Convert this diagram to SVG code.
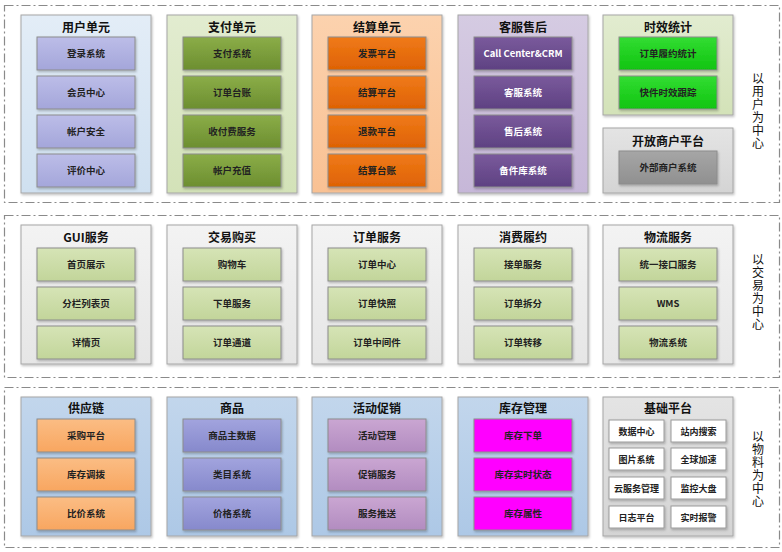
<svg xmlns="http://www.w3.org/2000/svg" width="782" height="552" viewBox="0 0 782 552">
<defs>
<style>
.frame{fill:none;stroke:#8a8a8a;stroke-width:1.2;stroke-dasharray:9 3 2 3}
.panel{stroke:#a6a6a6;stroke-width:1}
.box{stroke:#8c8c8c;stroke-width:1}
.sbox{fill:#ffffff;stroke:#9a9a9a;stroke-width:1}
.title{font-family:"Noto Sans CJK SC","Noto Sans",sans-serif;font-size:12px;font-weight:bold;fill:#111;text-anchor:middle}
.t{font-family:"Noto Sans CJK SC","Noto Sans",sans-serif;font-size:9.5px;font-weight:bold;fill:#222;text-anchor:middle}
.tw{font-family:"Noto Sans CJK SC","Noto Sans",sans-serif;font-size:9.5px;font-weight:bold;fill:#ffffff;text-anchor:middle}
.ts{font-family:"Noto Sans CJK SC","Noto Sans",sans-serif;font-size:9px;font-weight:bold;fill:#222;text-anchor:middle}
.side{font-family:"Noto Sans CJK SC","Noto Sans",sans-serif;font-size:12px;fill:#111;writing-mode:vertical-rl;letter-spacing:1px}
</style>
<linearGradient id="pBlue1" x1="0" y1="0" x2="0" y2="1"><stop offset="0" stop-color="#e3edf7"/><stop offset="1" stop-color="#cfe0f0"/></linearGradient>
<linearGradient id="pGreen" x1="0" y1="0" x2="0" y2="1"><stop offset="0" stop-color="#e2ecd0"/><stop offset="1" stop-color="#d3e2b8"/></linearGradient>
<linearGradient id="pOrange" x1="0" y1="0" x2="0" y2="1"><stop offset="0" stop-color="#fcd2ae"/><stop offset="1" stop-color="#f9c193"/></linearGradient>
<linearGradient id="pPurple" x1="0" y1="0" x2="0" y2="1"><stop offset="0" stop-color="#d5cbe2"/><stop offset="1" stop-color="#c6b7d8"/></linearGradient>
<linearGradient id="pGray" x1="0" y1="0" x2="0" y2="1"><stop offset="0" stop-color="#e4e4e4"/><stop offset="1" stop-color="#d4d4d4"/></linearGradient>
<linearGradient id="pLight" x1="0" y1="0" x2="0" y2="1"><stop offset="0" stop-color="#f3f3f3"/><stop offset="1" stop-color="#e6e6e6"/></linearGradient>
<linearGradient id="pBlue3" x1="0" y1="0" x2="0" y2="1"><stop offset="0" stop-color="#c2d6ec"/><stop offset="1" stop-color="#adc8e6"/></linearGradient>
<linearGradient id="bUser" x1="0" y1="0" x2="0" y2="1"><stop offset="0" stop-color="#bcbde8"/><stop offset="1" stop-color="#a4a6da"/></linearGradient>
<linearGradient id="bPay" x1="0" y1="0" x2="0" y2="1"><stop offset="0" stop-color="#8bad48"/><stop offset="1" stop-color="#6c8e30"/></linearGradient>
<linearGradient id="bSettle" x1="0" y1="0" x2="0" y2="1"><stop offset="0" stop-color="#f07a18"/><stop offset="1" stop-color="#de6204"/></linearGradient>
<linearGradient id="bSvc" x1="0" y1="0" x2="0" y2="1"><stop offset="0" stop-color="#7a5a9c"/><stop offset="1" stop-color="#5e4182"/></linearGradient>
<linearGradient id="bTime" x1="0" y1="0" x2="0" y2="1"><stop offset="0" stop-color="#33dd33"/><stop offset="1" stop-color="#10c410"/></linearGradient>
<linearGradient id="bExt" x1="0" y1="0" x2="0" y2="1"><stop offset="0" stop-color="#a6a6a6"/><stop offset="1" stop-color="#909090"/></linearGradient>
<linearGradient id="bTrade" x1="0" y1="0" x2="0" y2="1"><stop offset="0" stop-color="#d6e4b6"/><stop offset="1" stop-color="#c2d59a"/></linearGradient>
<linearGradient id="bSupply" x1="0" y1="0" x2="0" y2="1"><stop offset="0" stop-color="#fbbd84"/><stop offset="1" stop-color="#f8a660"/></linearGradient>
<linearGradient id="bGoods" x1="0" y1="0" x2="0" y2="1"><stop offset="0" stop-color="#a2a4de"/><stop offset="1" stop-color="#8689cc"/></linearGradient>
<linearGradient id="bPromo" x1="0" y1="0" x2="0" y2="1"><stop offset="0" stop-color="#caa6d2"/><stop offset="1" stop-color="#b28cc0"/></linearGradient>
<filter id="sh" x="-10%" y="-10%" width="125%" height="130%"><feDropShadow dx="1" dy="1.5" stdDeviation="0.8" flood-color="#000" flood-opacity="0.25"/></filter>
</defs>
<rect width="782" height="552" fill="#ffffff"/>

<g id="frames">
<rect class="frame" x="4.5" y="5.5" width="775" height="197"/>
<rect class="frame" x="4.5" y="215.5" width="775" height="162"/>
<rect class="frame" x="4.5" y="387.5" width="775" height="160"/>
</g>

<!-- Row 1 -->
<g id="user-unit">
<rect class="panel" x="21" y="15" width="130" height="178" fill="url(#pBlue1)" filter="url(#sh)"/>
<text class="title" x="86" y="32">用户单元</text>
<rect class="box" x="37" y="37" width="98" height="33" fill="url(#bUser)" filter="url(#sh)"/><text class="t" x="86" y="57">登录系统</text>
<rect class="box" x="37" y="76" width="98" height="33" fill="url(#bUser)" filter="url(#sh)"/><text class="t" x="86" y="96">会员中心</text>
<rect class="box" x="37" y="115" width="98" height="33" fill="url(#bUser)" filter="url(#sh)"/><text class="t" x="86" y="135">帐户安全</text>
<rect class="box" x="37" y="154" width="98" height="33" fill="url(#bUser)" filter="url(#sh)"/><text class="t" x="86" y="174">评价中心</text>
</g>
<g id="pay-unit">
<rect class="panel" x="167" y="15" width="130" height="178" fill="url(#pGreen)" filter="url(#sh)"/>
<text class="title" x="232" y="32">支付单元</text>
<rect class="box" x="183" y="37" width="98" height="33" fill="url(#bPay)" filter="url(#sh)"/><text class="t" x="232" y="57">支付系统</text>
<rect class="box" x="183" y="76" width="98" height="33" fill="url(#bPay)" filter="url(#sh)"/><text class="t" x="232" y="96">订单台账</text>
<rect class="box" x="183" y="115" width="98" height="33" fill="url(#bPay)" filter="url(#sh)"/><text class="t" x="232" y="135">收付费服务</text>
<rect class="box" x="183" y="154" width="98" height="33" fill="url(#bPay)" filter="url(#sh)"/><text class="t" x="232" y="174">帐户充值</text>
</g>
<g id="settle-unit">
<rect class="panel" x="312" y="15" width="130" height="178" fill="url(#pOrange)" filter="url(#sh)"/>
<text class="title" x="377" y="32">结算单元</text>
<rect class="box" x="328" y="37" width="98" height="33" fill="url(#bSettle)" filter="url(#sh)"/><text class="t" x="377" y="57">发票平台</text>
<rect class="box" x="328" y="76" width="98" height="33" fill="url(#bSettle)" filter="url(#sh)"/><text class="t" x="377" y="96">结算平台</text>
<rect class="box" x="328" y="115" width="98" height="33" fill="url(#bSettle)" filter="url(#sh)"/><text class="t" x="377" y="135">退款平台</text>
<rect class="box" x="328" y="154" width="98" height="33" fill="url(#bSettle)" filter="url(#sh)"/><text class="t" x="377" y="174">结算台账</text>
</g>
<g id="service-after-sale">
<rect class="panel" x="458" y="15" width="130" height="178" fill="url(#pPurple)" filter="url(#sh)"/>
<text class="title" x="523" y="32">客服售后</text>
<rect class="box" x="474" y="37" width="98" height="33" fill="url(#bSvc)" filter="url(#sh)"/><text class="tw" x="523" y="57">Call Center&amp;CRM</text>
<rect class="box" x="474" y="76" width="98" height="33" fill="url(#bSvc)" filter="url(#sh)"/><text class="tw" x="523" y="96">客服系统</text>
<rect class="box" x="474" y="115" width="98" height="33" fill="url(#bSvc)" filter="url(#sh)"/><text class="tw" x="523" y="135">售后系统</text>
<rect class="box" x="474" y="154" width="98" height="33" fill="url(#bSvc)" filter="url(#sh)"/><text class="tw" x="523" y="174">备件库系统</text>
</g>
<g id="time-stats">
<rect class="panel" x="603" y="15" width="130" height="100" fill="url(#pGreen)" filter="url(#sh)"/>
<text class="title" x="668" y="32">时效统计</text>
<rect class="box" x="619" y="37" width="98" height="33" fill="url(#bTime)" filter="url(#sh)"/><text class="t" x="668" y="57">订单履约统计</text>
<rect class="box" x="619" y="76" width="98" height="33" fill="url(#bTime)" filter="url(#sh)"/><text class="t" x="668" y="96">快件时效跟踪</text>
</g>
<g id="open-merchant">
<rect class="panel" x="603" y="128" width="130" height="65" fill="url(#pGray)" filter="url(#sh)"/>
<text class="title" x="668" y="146">开放商户平台</text>
<rect class="box" x="619" y="151" width="98" height="33" fill="url(#bExt)" filter="url(#sh)"/><text class="t" x="668" y="171">外部商户系统</text>
</g>
<g id="label-user">
<text class="side" x="758" y="72">以用户为中心</text>
</g>

<!-- Row 2 -->
<g id="gui-service">
<rect class="panel" x="21" y="225" width="130" height="139" fill="url(#pLight)" filter="url(#sh)"/>
<text class="title" x="86" y="242">GUI服务</text>
<rect class="box" x="37" y="248" width="98" height="33" fill="url(#bTrade)" filter="url(#sh)"/><text class="t" x="86" y="268">首页展示</text>
<rect class="box" x="37" y="287" width="98" height="33" fill="url(#bTrade)" filter="url(#sh)"/><text class="t" x="86" y="307">分栏列表页</text>
<rect class="box" x="37" y="326" width="98" height="33" fill="url(#bTrade)" filter="url(#sh)"/><text class="t" x="86" y="346">详情页</text>
</g>
<g id="trade-buy">
<rect class="panel" x="167" y="225" width="130" height="139" fill="url(#pLight)" filter="url(#sh)"/>
<text class="title" x="232" y="242">交易购买</text>
<rect class="box" x="183" y="248" width="98" height="33" fill="url(#bTrade)" filter="url(#sh)"/><text class="t" x="232" y="268">购物车</text>
<rect class="box" x="183" y="287" width="98" height="33" fill="url(#bTrade)" filter="url(#sh)"/><text class="t" x="232" y="307">下单服务</text>
<rect class="box" x="183" y="326" width="98" height="33" fill="url(#bTrade)" filter="url(#sh)"/><text class="t" x="232" y="346">订单通道</text>
</g>
<g id="order-service">
<rect class="panel" x="312" y="225" width="130" height="139" fill="url(#pLight)" filter="url(#sh)"/>
<text class="title" x="377" y="242">订单服务</text>
<rect class="box" x="328" y="248" width="98" height="33" fill="url(#bTrade)" filter="url(#sh)"/><text class="t" x="377" y="268">订单中心</text>
<rect class="box" x="328" y="287" width="98" height="33" fill="url(#bTrade)" filter="url(#sh)"/><text class="t" x="377" y="307">订单快照</text>
<rect class="box" x="328" y="326" width="98" height="33" fill="url(#bTrade)" filter="url(#sh)"/><text class="t" x="377" y="346">订单中间件</text>
</g>
<g id="fulfillment">
<rect class="panel" x="458" y="225" width="130" height="139" fill="url(#pLight)" filter="url(#sh)"/>
<text class="title" x="523" y="242">消费履约</text>
<rect class="box" x="474" y="248" width="98" height="33" fill="url(#bTrade)" filter="url(#sh)"/><text class="t" x="523" y="268">接单服务</text>
<rect class="box" x="474" y="287" width="98" height="33" fill="url(#bTrade)" filter="url(#sh)"/><text class="t" x="523" y="307">订单拆分</text>
<rect class="box" x="474" y="326" width="98" height="33" fill="url(#bTrade)" filter="url(#sh)"/><text class="t" x="523" y="346">订单转移</text>
</g>
<g id="logistics">
<rect class="panel" x="603" y="225" width="130" height="139" fill="url(#pLight)" filter="url(#sh)"/>
<text class="title" x="668" y="242">物流服务</text>
<rect class="box" x="619" y="248" width="98" height="33" fill="url(#bTrade)" filter="url(#sh)"/><text class="t" x="668" y="268">统一接口服务</text>
<rect class="box" x="619" y="287" width="98" height="33" fill="url(#bTrade)" filter="url(#sh)"/><text class="t" x="668" y="307">WMS</text>
<rect class="box" x="619" y="326" width="98" height="33" fill="url(#bTrade)" filter="url(#sh)"/><text class="t" x="668" y="346">物流系统</text>
</g>
<g id="label-trade">
<text class="side" x="758" y="253">以交易为中心</text>
</g>

<!-- Row 3 -->
<g id="supply-chain">
<rect class="panel" x="21" y="397" width="130" height="139" fill="url(#pBlue3)" filter="url(#sh)"/>
<text class="title" x="86" y="413">供应链</text>
<rect class="box" x="37" y="419" width="98" height="33" fill="url(#bSupply)" filter="url(#sh)"/><text class="t" x="86" y="439">采购平台</text>
<rect class="box" x="37" y="458" width="98" height="33" fill="url(#bSupply)" filter="url(#sh)"/><text class="t" x="86" y="478">库存调拨</text>
<rect class="box" x="37" y="497" width="98" height="33" fill="url(#bSupply)" filter="url(#sh)"/><text class="t" x="86" y="517">比价系统</text>
</g>
<g id="goods">
<rect class="panel" x="167" y="397" width="130" height="139" fill="url(#pBlue3)" filter="url(#sh)"/>
<text class="title" x="232" y="413">商品</text>
<rect class="box" x="183" y="419" width="98" height="33" fill="url(#bGoods)" filter="url(#sh)"/><text class="t" x="232" y="439">商品主数据</text>
<rect class="box" x="183" y="458" width="98" height="33" fill="url(#bGoods)" filter="url(#sh)"/><text class="t" x="232" y="478">类目系统</text>
<rect class="box" x="183" y="497" width="98" height="33" fill="url(#bGoods)" filter="url(#sh)"/><text class="t" x="232" y="517">价格系统</text>
</g>
<g id="promotion">
<rect class="panel" x="312" y="397" width="130" height="139" fill="url(#pBlue3)" filter="url(#sh)"/>
<text class="title" x="377" y="413">活动促销</text>
<rect class="box" x="328" y="419" width="98" height="33" fill="url(#bPromo)" filter="url(#sh)"/><text class="t" x="377" y="439">活动管理</text>
<rect class="box" x="328" y="458" width="98" height="33" fill="url(#bPromo)" filter="url(#sh)"/><text class="t" x="377" y="478">促销服务</text>
<rect class="box" x="328" y="497" width="98" height="33" fill="url(#bPromo)" filter="url(#sh)"/><text class="t" x="377" y="517">服务推送</text>
</g>
<g id="inventory">
<rect class="panel" x="458" y="397" width="130" height="139" fill="url(#pBlue3)" filter="url(#sh)"/>
<text class="title" x="523" y="413">库存管理</text>
<rect class="box" x="474" y="419" width="98" height="33" fill="#ff00ff" filter="url(#sh)"/><text class="t" x="523" y="439">库存下单</text>
<rect class="box" x="474" y="458" width="98" height="33" fill="#ff00ff" filter="url(#sh)"/><text class="t" x="523" y="478">库存实时状态</text>
<rect class="box" x="474" y="497" width="98" height="33" fill="#ff00ff" filter="url(#sh)"/><text class="t" x="523" y="517">库存属性</text>
</g>
<g id="base-platform">
<rect class="panel" x="603" y="397" width="130" height="139" fill="url(#pGray)" filter="url(#sh)"/>
<text class="title" x="668" y="413">基础平台</text>
<rect class="sbox" x="609" y="420" width="55" height="22" filter="url(#sh)"/><text class="ts" x="636.5" y="434.5">数据中心</text>
<rect class="sbox" x="671" y="420" width="55" height="22" filter="url(#sh)"/><text class="ts" x="698.5" y="434.5">站内搜索</text>
<rect class="sbox" x="609" y="448" width="55" height="22" filter="url(#sh)"/><text class="ts" x="636.5" y="462.5">图片系统</text>
<rect class="sbox" x="671" y="448" width="55" height="22" filter="url(#sh)"/><text class="ts" x="698.5" y="462.5">全球加速</text>
<rect class="sbox" x="609" y="477" width="55" height="22" filter="url(#sh)"/><text class="ts" x="636.5" y="491.5">云服务管理</text>
<rect class="sbox" x="671" y="477" width="55" height="22" filter="url(#sh)"/><text class="ts" x="698.5" y="491.5">监控大盘</text>
<rect class="sbox" x="609" y="506" width="55" height="22" filter="url(#sh)"/><text class="ts" x="636.5" y="520.5">日志平台</text>
<rect class="sbox" x="671" y="506" width="55" height="22" filter="url(#sh)"/><text class="ts" x="698.5" y="520.5">实时报警</text>
</g>
<g id="label-material">
<text class="side" x="758" y="430">以物料为中心</text>
</g>
</svg>
